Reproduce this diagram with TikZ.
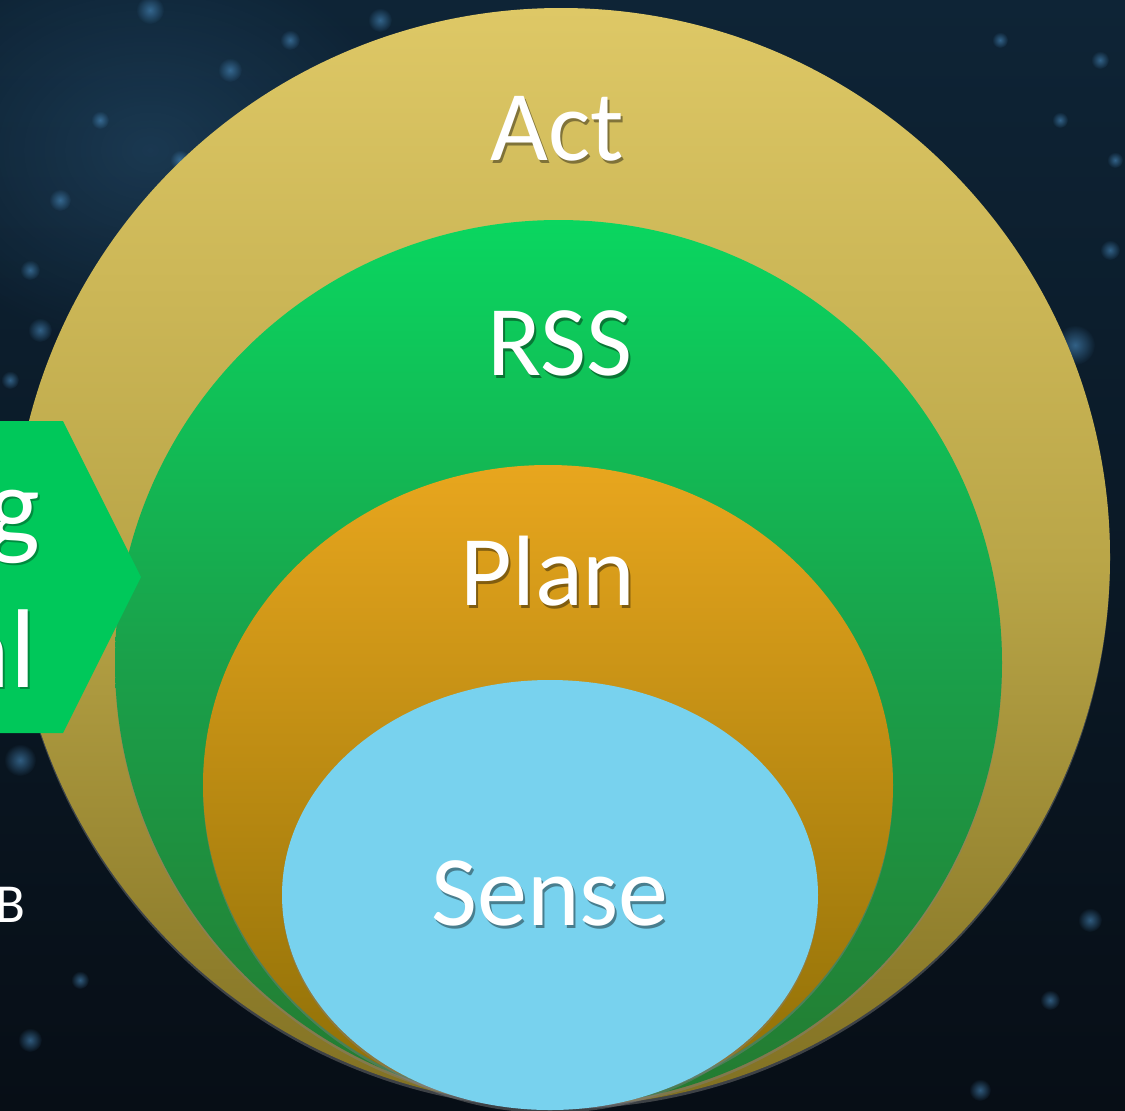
\documentclass[tikz,border=0pt]{standalone}
\usepackage{fontspec}
\setmainfont{Carlito}
\usetikzlibrary{shadows,fadings}
\definecolor{bgtop}{RGB}{14,36,54}
\definecolor{bgbot}{RGB}{7,14,22}
\definecolor{acttop}{RGB}{222,200,102}
\definecolor{actmid}{RGB}{186,166,72}
\definecolor{actbot}{RGB}{128,112,34}
\definecolor{rsstop}{RGB}{10,214,96}
\definecolor{rssmid}{RGB}{26,160,74}
\definecolor{rssbot}{RGB}{36,122,48}
\definecolor{plantop}{RGB}{232,166,30}
\definecolor{planbot}{RGB}{140,110,6}
\definecolor{sensecol}{RGB}{120,210,238}
\definecolor{hexcol}{RGB}{0,200,90}
\definecolor{bokeh}{RGB}{80,150,205}
\tikzfading[name=fuzzydot, inner color=transparent!20, outer color=transparent!100]
\tikzset{
  ring/.style={drop shadow={opacity=0.45,shadow xshift=0pt,shadow yshift=-3pt}},
  lbl/.style={text=white,font=\fontsize{100}{120}\selectfont,anchor=base,inner sep=0pt},
  lblshadow/.style={text=black,opacity=0.4,font=\fontsize{100}{120}\selectfont,anchor=base,inner sep=0pt},
  sidelbl/.style={text=white,font=\fontsize{112}{134}\selectfont,anchor=base east,inner sep=0pt},
  dot/.style={fill=bokeh,path fading=fuzzydot,fill opacity=0.7}
}
\begin{document}
\begin{tikzpicture}[x=1pt,y=-1pt]
\useasboundingbox (0,0) rectangle (1125,1111);
\begin{scope}
\clip (0,0) rectangle (1125,1111);
% background
\shade[top color=bgtop,bottom color=bgbot] (0,0) rectangle (1125,1111);
\fill[bokeh,path fading=fuzzydot,fill opacity=0.25] (150,150) ellipse[x radius=260,y radius=200];
\foreach \px/\py/\r in {150/10/14, 230/70/12, 300/150/16, 200/230/12, 120/300/14, 30/270/10, 40/330/12, 290/40/10, 380/20/12, 440/60/9, 180/160/10, 10/380/9, 1075/345/20, 1110/250/10, 1060/120/8, 1100/60/9, 1000/40/8, 1090/920/12, 1050/1000/10, 30/1040/12, 80/980/9, 980/1090/11, 1115/160/8, 60/200/11, 100/120/9, 20/760/16}{
  \fill[dot] (\px,\py) circle[radius=\r];
}
% Act
\shade[ring,top color=acttop,bottom color=actbot,middle color=actmid] (561,557) ellipse[x radius=549,y radius=549];
% RSS
\shade[ring,top color=rsstop,bottom color=rssbot,middle color=rssmid] (558.5,662.5) ellipse[x radius=443.5,y radius=442.5];
% Plan
\shade[ring,top color=plantop,bottom color=planbot] (548,785) ellipse[x radius=345,y radius=320];
% Sense
\fill[ring,sensecol] (550,895) ellipse[x radius=268,y radius=215];
% hexagon
\fill[hexcol] (-100,421) -- (63,421) -- (141,577) -- (63,733) -- (-100,733) -- cycle;
\node[sidelbl,text=black,opacity=0.3] (gsh) at (42,546) {g};
\node[sidelbl] (g) at (40,544) {g};
\node[sidelbl,text=black,opacity=0.3] (alsh) at (38,689) {al};
\node[sidelbl] (al) at (36,687) {al};
% B
\node[text=white,font=\fontsize{55}{66}\selectfont,anchor=base east,inner sep=0pt] (b) at (26,922) {B};
\end{scope}
% labels
\node[lblshadow] (actsh) at (559,163) {Act};
\node[lbl] (act) at (557,160) {Act};
\node[lblshadow] (rsssh) at (562,378) {RSS};
\node[lbl] (rss) at (560,375) {RSS};
\node[lblshadow] (plansh) at (550,608) {Plan};
\node[lbl] (plan) at (548,605) {Plan};
\node[lblshadow] (sensesh) at (552,928) {Sense};
\node[lbl] (sense) at (550,925) {Sense};
\end{tikzpicture}
\end{document}
